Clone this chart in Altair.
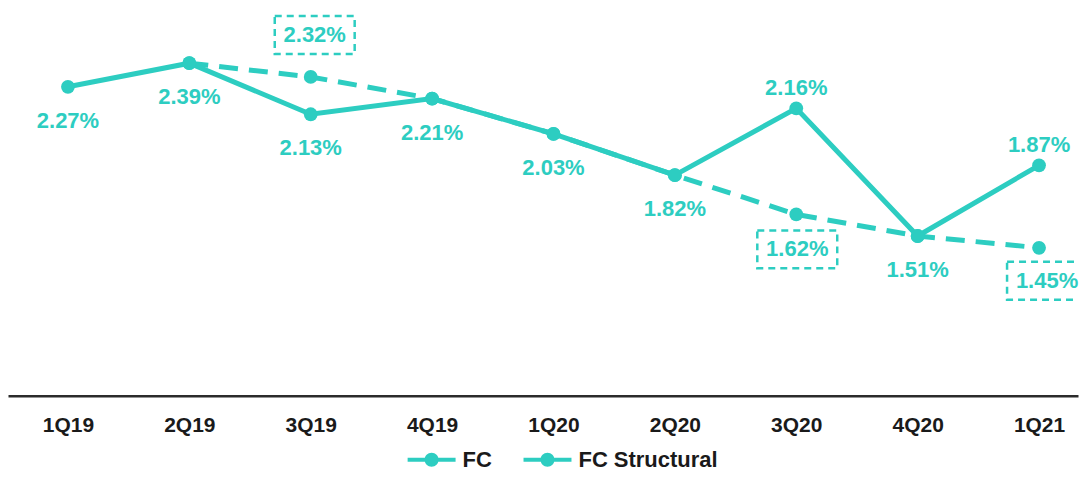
import json
import altair as alt
import pandas as pd

TEAL = "#2DCDC1"
FONT = "Liberation Sans"

QUARTERS = ["1Q19", "2Q19", "3Q19", "4Q19", "1Q20", "2Q20", "3Q20", "4Q20", "1Q21"]
FC = [2.27, 2.39, 2.13, 2.21, 2.03, 1.82, 2.16, 1.51, 1.87]
STRUCT_Q = ["2Q19", "3Q19", "4Q19", "1Q20", "2Q20", "3Q20", "4Q20", "1Q21"]
STRUCT = [2.39, 2.32, 2.21, 2.03, 1.82, 1.62, 1.51, 1.45]
SERIES = ["FC", "FC Structural"]
FC_LABEL_ABOVE = ["3Q20", "1Q21"]
STRUCT_LABEL_ABOVE = ["3Q19"]
STRUCT_LABEL_BELOW = ["3Q20"]
STRUCT_LABEL_BELOW_RIGHT = ["1Q21"]

fc_df = pd.DataFrame({"q": QUARTERS, "v": FC, "s": SERIES[0]})
st_df = pd.DataFrame({"q": STRUCT_Q, "v": STRUCT, "s": SERIES[1]})
df = pd.concat([fc_df, st_df], ignore_index=True)
df["i"] = df["q"].map(QUARTERS.index)
df["label"] = df["v"].map(lambda v: f"{v:.2f}%")

W = 1071
STEP = 121.5
LEFT = 60.0
x = alt.X(
    "i:Q",
    scale=alt.Scale(domain=[-LEFT / STEP, (W - LEFT) / STEP], nice=False, zero=False),
    axis=alt.Axis(
        title=None, labelAngle=0, ticks=False, grid=False,
        values=list(range(len(QUARTERS))),
        labelExpr=json.dumps(QUARTERS) + "[datum.value]",
        labelFlush=False, labelOverlap=False,
        domainColor="#2b2b2b", domainWidth=2.5,
        labelFont=FONT, labelFontSize=21, labelFontWeight="bold",
        labelColor="#1a1a1a", labelPadding=19,
    ),
)
y = alt.Y("v:Q", scale=alt.Scale(domain=[0.696, 2.670], nice=False, zero=False), axis=None)

legend_symbol = ("M-1,-0.2L3.8,-0.2L3.8,0.2L-1,0.2Z"
                 "M0.7,0A0.7,0.7,0,1,1,2.1,0A0.7,0.7,0,1,1,0.7,0Z")
color = alt.Color(
    "s:N",
    scale=alt.Scale(domain=SERIES, range=[TEAL, TEAL]),
    legend=alt.Legend(
        title=None, orient="none", legendX=399, legendY=441, direction="horizontal",
        symbolType=legend_symbol, symbolSize=400, symbolStrokeWidth=0,
        symbolFillColor=TEAL, symbolStrokeColor=TEAL, symbolOpacity=1,
        labelFont=FONT, labelFontSize=22, labelFontWeight="bold", labelColor="#1a1a1a",
        labelOffset=34, columnPadding=30,
    ),
)

base = alt.Chart(df)
is_fc = alt.datum.s == SERIES[0]
is_st = alt.datum.s == SERIES[1]

struct_line = base.transform_filter(is_st).mark_line(
    strokeWidth=5, strokeDash=[19, 11]
).encode(x=x, y=y, color=color)
fc_line = base.transform_filter(is_fc).mark_line(strokeWidth=5).encode(x=x, y=y, color=color)
points = base.mark_circle(size=190, opacity=1, color=TEAL).encode(x=x, y=y)

text_style = dict(font=FONT, fontSize=22, fontWeight="bold", color=TEAL, baseline="middle", align="center")

fc_below = base.transform_filter(is_fc).transform_filter(
    ~alt.FieldOneOfPredicate(field="q", oneOf=FC_LABEL_ABOVE)
).mark_text(yOffset=34, **text_style).encode(x=x, y=y, text="label:N")
fc_above = base.transform_filter(is_fc).transform_filter(
    alt.FieldOneOfPredicate(field="q", oneOf=FC_LABEL_ABOVE)
).mark_text(yOffset=-20, **text_style).encode(x=x, y=y, text="label:N")

box_shape = "M-1,-0.475L1,-0.475L1,0.475L-1,0.475Z"
box_style = dict(shape=box_shape, size=6400, filled=False, color=TEAL,
                 strokeWidth=2.5, strokeDash=[7, 5], opacity=1, clip=True)


def struct_labels(quarters, dy, dx):
    sub = base.transform_filter(is_st).transform_filter(
        alt.FieldOneOfPredicate(field="q", oneOf=quarters))
    box = sub.mark_point(yOffset=dy, xOffset=dx, **box_style).encode(x=x, y=y)
    txt = sub.mark_text(yOffset=dy, xOffset=dx, **text_style).encode(x=x, y=y, text="label:N")
    return [box, txt]


layers = [struct_line, fc_line, points, fc_below, fc_above]
layers += struct_labels(STRUCT_LABEL_ABOVE, -42, 4)
layers += struct_labels(STRUCT_LABEL_BELOW, 35, 1)
layers += struct_labels(STRUCT_LABEL_BELOW_RIGHT, 33, 8)

chart = alt.layer(*layers).properties(
    width=W, height=388, padding=0
).configure_view(stroke=None)

chart.save("out.html", embed_options={"renderer": "svg", "actions": False})
